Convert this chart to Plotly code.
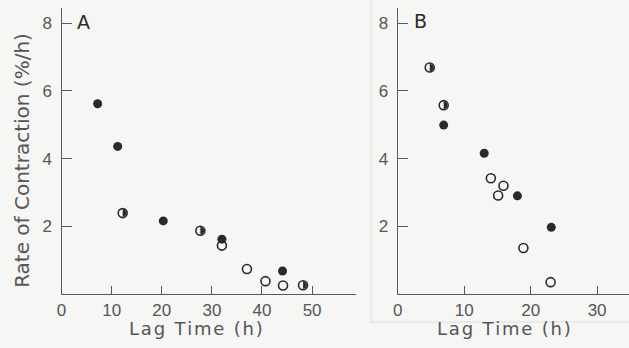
import math
import plotly.graph_objects as go

# Panel A: lag time (h) vs rate of contraction (%/h)
a_filled_x = [7.2, 11.2, 20.3, 32.0, 44.1]
a_filled_y = [5.62, 4.36, 2.16, 1.62, 0.68]
a_half_x = [12.2, 27.7, 48.2]
a_half_y = [2.39, 1.87, 0.26]
a_open_x = [32.0, 37.0, 40.7, 44.2]
a_open_y = [1.43, 0.74, 0.38, 0.25]

# Panel B
b_filled_x = [6.9, 13.0, 18.0, 23.1]
b_filled_y = [4.99, 4.16, 2.90, 1.97]
b_half_x = [4.8, 6.9]
b_half_y = [6.69, 5.58]
b_open_x = [14.0, 15.9, 15.1, 18.9, 23.0]
b_open_y = [3.42, 3.20, 2.91, 1.36, 0.35]

a_xticks = [0, 10, 20, 30, 40, 50]
b_xticks = [0, 10, 20, 30]
y_ticks = [2, 4, 6, 8]

W, H = 629, 348
INK = "#2a2a2a"
AXIS = "#5a5a5a"
TXT = "#555555"
BG = "#f6f6f4"

# axis geometry (pixels)
A_X0, A_X1, A_XR = 57, 354, 58.8
B_X0, B_X1, B_XR = 396, 629, 34.8
Y_B, Y_T, Y_R = 294, 8, 8.45
MARK = 9  # marker diameter, px

fig = go.Figure()


def half_disc(xs, ys, px_per_x, px_per_y):
    """Right-half disc outlines (in data units) centred on each point."""
    r = (MARK - 1.2) / 2
    px, py = [], []
    for cx, cy in zip(xs, ys):
        for k in range(0, 25):
            t = -math.pi / 2 + math.pi * k / 24
            px.append(cx + r * math.cos(t) / px_per_x)
            py.append(cy + r * math.sin(t) / px_per_y)
        px.append(None)
        py.append(None)
    return px, py


def add_panel(fx, fy, hx, hy, ox, oy, xa, ya, ppx, ppy):
    hpx, hpy = half_disc(hx, hy, ppx, ppy)
    fig.add_trace(go.Scatter(
        x=hpx, y=hpy, mode="lines", fill="toself", fillcolor=INK, xaxis=xa, yaxis=ya,
        line=dict(width=0, color=INK), showlegend=False, hoverinfo="skip"))
    fig.add_trace(go.Scatter(
        x=ox + hx, y=oy + hy, mode="markers", xaxis=xa, yaxis=ya,
        marker=dict(symbol="circle-open", size=MARK, color=INK, line=dict(width=1.6, color=INK)),
        showlegend=False, hoverinfo="skip"))
    fig.add_trace(go.Scatter(
        x=fx, y=fy, mode="markers", xaxis=xa, yaxis=ya,
        marker=dict(symbol="circle", size=MARK, color=INK, line=dict(width=0)),
        showlegend=False, hoverinfo="skip"))


ppy = (Y_B - Y_T) / Y_R
add_panel(a_filled_x, a_filled_y, a_half_x, a_half_y, a_open_x, a_open_y, "x", "y",
          (A_X1 - A_X0) / A_XR, ppy)
add_panel(b_filled_x, b_filled_y, b_half_x, b_half_y, b_open_x, b_open_y, "x2", "y2",
          (B_X1 - B_X0) / B_XR, ppy)

tickfont = dict(family="Liberation Sans Narrow, Liberation Sans", size=17, color=TXT)
ax_common = dict(showgrid=False, zeroline=False, showline=True, linecolor=AXIS, linewidth=1.4,
                 ticks="inside", tickcolor=AXIS, tickwidth=1.3, tickfont=tickfont, mirror=False)

y_dom = [1 - Y_B / H, 1 - Y_T / H]

fig.update_layout(
    width=W, height=H,
    margin=dict(l=0, r=0, t=0, b=0),
    paper_bgcolor=BG, plot_bgcolor=BG,
    xaxis=dict(domain=[A_X0 / W, A_X1 / W], range=[0, A_XR], tickvals=a_xticks, ticklen=8,
               anchor="y", **ax_common),
    yaxis=dict(domain=y_dom, range=[0, Y_R], tickvals=y_ticks, ticklen=10,
               ticklabelstandoff=5, anchor="x", **ax_common),
    xaxis2=dict(domain=[B_X0 / W, B_X1 / W], range=[0, B_XR], tickvals=b_xticks, ticklen=8,
                anchor="y2", **ax_common),
    yaxis2=dict(domain=y_dom, range=[0, Y_R], tickvals=y_ticks, ticklen=10,
                ticklabelstandoff=5, anchor="x2", **ax_common),
)

HS = "\u200a"  # hair space for slightly open lettering
x_title = HS.join("Lag Time (h)")
x_font = dict(family="DejaVu Sans", size=18, color=TXT)
y_font = dict(family="DejaVu Sans", size=20, color=TXT)
label_font = dict(family="DejaVu Sans", size=19, color=INK)
annotations = [
    dict(text=x_title, x=193 / W, y=1 - 328 / H, font=x_font),
    dict(text=x_title, x=503 / W, y=1 - 328 / H, font=x_font),
    dict(text="Rate of Contraction (%/h)", x=17 / W, y=1 - 160 / H, font=y_font, textangle=-90),
    dict(text="A", x=79 / W, y=1 - 22 / H, font=label_font),
    dict(text="B", x=419 / W, y=1 - 21 / H, font=label_font),
]
for a in annotations:
    fig.add_annotation(xref="paper", yref="paper", xanchor="center", yanchor="middle",
                       showarrow=False, **a)

# faint frame around the right panel
fig.add_shape(type="rect", xref="paper", yref="paper",
              x0=369 / W, x1=1.01, y0=1 - 322 / H, y1=1.01,
              line=dict(color="#e6e6e3", width=1.5), fillcolor="rgba(0,0,0,0)", layer="below")

fig.write_html("out.html")
